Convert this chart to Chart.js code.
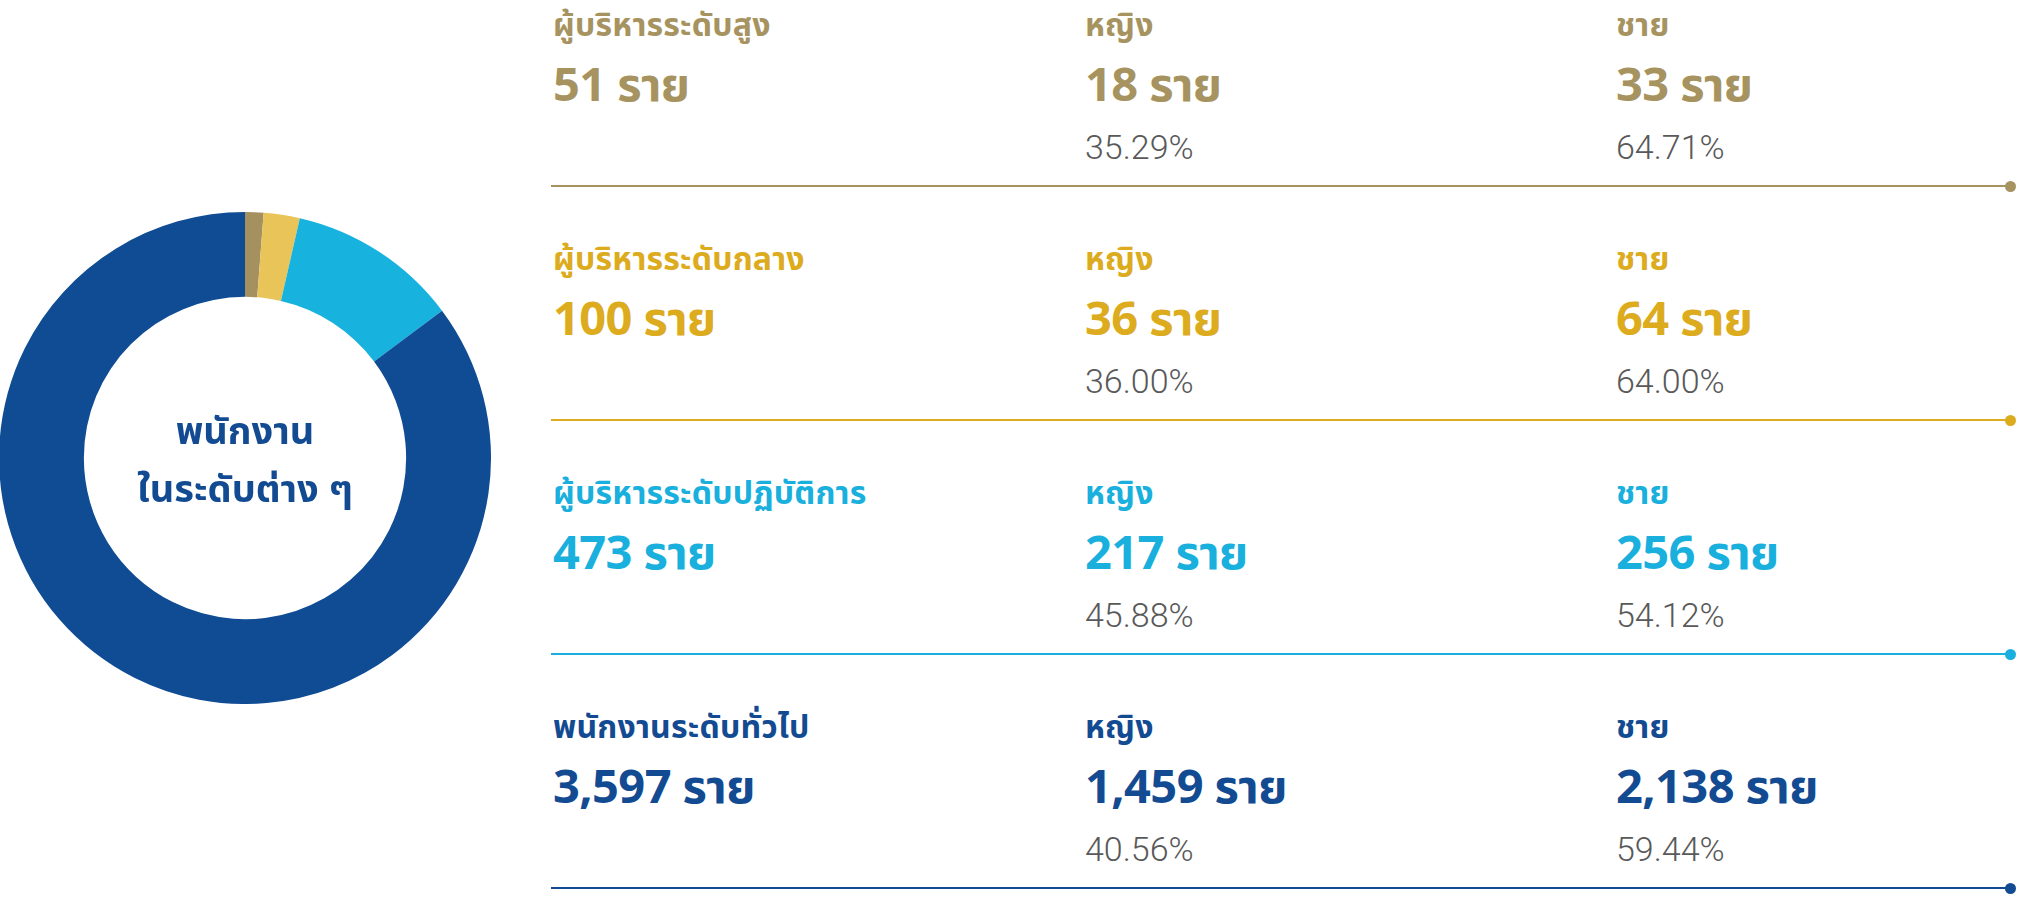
<!DOCTYPE html>
<html lang="th">
<head>
<meta charset="utf-8">
<title>พนักงานในระดับต่าง ๆ</title>
<script src="https://cdn.jsdelivr.net/npm/chart.js@4.4.1/dist/chart.umd.min.js"></script>
<style>
  html, body { margin: 0; padding: 0; background: #ffffff; }
  body { width: 2026px; height: 900px; overflow: hidden; }
  #wrap { position: relative; width: 2026px; height: 900px; font-family: "Noto Sans Thai", "Noto Sans", sans-serif; }
  #donut-box { position: absolute; left: -1px; top: 212px; width: 492px; height: 492px; }
  #center-label {
    position: absolute; left: 0; top: 404px; width: 490px;
    text-align: center; font-size: 38px; line-height: 58px; font-weight: 700; color: #134b92;
  }
  .txt { position: absolute; white-space: nowrap; }
  .title { font-size: 32px; line-height: 40px; font-weight: 700; letter-spacing: 0.2px; }
  .big { font-size: 47px; line-height: 60px; font-weight: 700; letter-spacing: -0.6px; }
  .pct { font-size: 34px; line-height: 44px; font-weight: 300; color: #595959; font-family: Roboto, "Noto Sans", sans-serif; }
  .rule { position: absolute; left: 551px; width: 1459px; height: 2px; }
  .dot { position: absolute; width: 11px; height: 11px; border-radius: 50%; }
</style>
</head>
<body>
<div id="wrap">
  <div id="donut-box"><canvas id="donut"></canvas></div>
  <div id="center-label">พนักงาน<br>ในระดับต่าง ๆ</div>
</div>
<script>
// data
const levels = ["ผู้บริหารระดับสูง", "ผู้บริหารระดับกลาง", "ผู้บริหารระดับปฏิบัติการ", "พนักงานระดับทั่วไป"];
const totals = [51, 100, 473, 3597];
const female = [18, 36, 217, 1459];
const male = [33, 64, 256, 2138];
const femalePct = ["35.29%", "36.00%", "45.88%", "40.56%"];
const malePct = ["64.71%", "64.00%", "54.12%", "59.44%"];

// colours
const sliceColors = ["#a5915f", "#e9c459", "#18b2df", "#104c94"];
const textColors = ["#a69360", "#dcab1e", "#19b0de", "#134b92"];
const ruleColors = ["#a69360", "#dcab1e", "#19b0de", "#134b92"];

const unit = "ราย";
const femaleLabel = "หญิง";
const maleLabel = "ชาย";

const wrap = document.getElementById("wrap");

function fmt(n) {
  return n.toLocaleString("en-US");
}

function addText(cls, text, x, y, color) {
  const el = document.createElement("div");
  el.className = "txt " + cls;
  el.innerText = text;
  el.style.left = x + "px";
  el.style.top = y + "px";
  if (color) el.style.color = color;
  wrap.appendChild(el);
}

// rows on the right
const colX = [553, 1085, 1616];
const rowStep = 234;

levels.forEach((name, i) => {
  const base = i * rowStep;
  const c = textColors[i];

  addText("title", name, colX[0], 6 + base, c);
  addText("big", fmt(totals[i]) + " " + unit, colX[0], 57 + base, c);

  addText("title", femaleLabel, colX[1], 6 + base, c);
  addText("big", fmt(female[i]) + " " + unit, colX[1], 57 + base, c);
  addText("pct", femalePct[i], colX[1], 125 + base);

  addText("title", maleLabel, colX[2], 6 + base, c);
  addText("big", fmt(male[i]) + " " + unit, colX[2], 57 + base, c);
  addText("pct", malePct[i], colX[2], 125 + base);

  // separator with end dot
  const rule = document.createElement("div");
  rule.className = "rule";
  rule.style.top = (185 + base) + "px";
  rule.style.background = ruleColors[i];
  wrap.appendChild(rule);

  const dot = document.createElement("div");
  dot.className = "dot";
  dot.style.left = "2004.5px";
  dot.style.top = (180.5 + base) + "px";
  dot.style.background = ruleColors[i];
  wrap.appendChild(dot);
});

// donut
const ctx = document.getElementById("donut").getContext("2d");
new Chart(ctx, {
  type: "doughnut",
  data: {
    labels: levels,
    datasets: [{
      data: totals,
      backgroundColor: sliceColors,
      borderWidth: 0
    }]
  },
  options: {
    responsive: true,
    maintainAspectRatio: false,
    animation: false,
    cutout: "65.5%",
    layout: { padding: 0 },
    plugins: {
      legend: { display: false },
      tooltip: { enabled: false }
    }
  }
});
</script>
</body>
</html>
